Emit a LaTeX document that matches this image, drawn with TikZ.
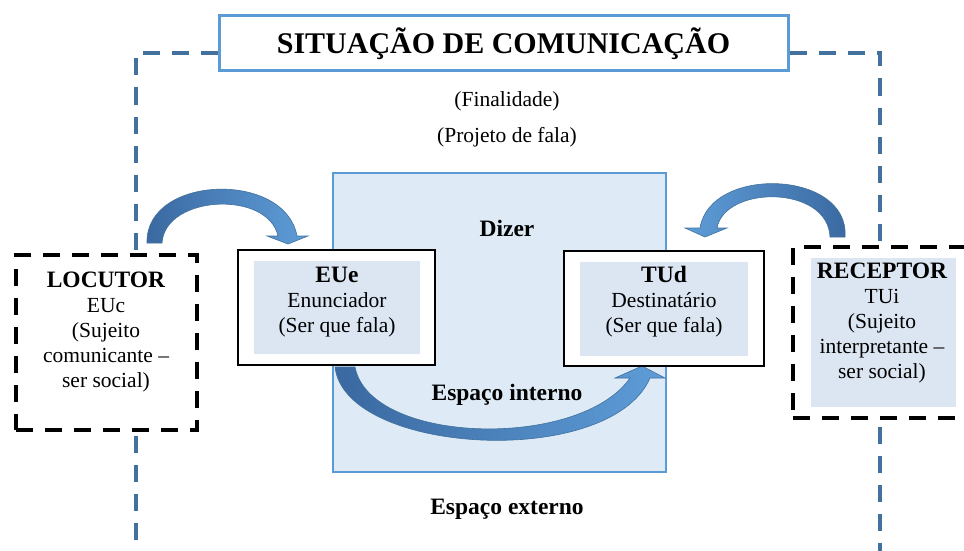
\documentclass[tikz,border=0pt]{standalone}
\usepackage{fontspec}
\setmainfont{Liberation Serif}
\definecolor{frameblue}{HTML}{41719C}
\definecolor{edgeblue}{HTML}{5B9BD5}
\definecolor{paleblue}{HTML}{DEEBF7}
\definecolor{innerblue}{HTML}{DCE6F2}
\definecolor{arrowdark}{HTML}{3A68A0}
\definecolor{arrowlight}{HTML}{5E9DD8}
\newcommand\bodysize{\fontsize{21.5}{25}\selectfont}
\newcommand\headsize{\fontsize{23.5}{25}\selectfont\bfseries}
\begin{document}
\begin{tikzpicture}[x=1pt,y=-1pt,>=latex,
    frame/.style={draw=frameblue,line width=4pt,dash pattern=on 17pt off 12pt},
    agentbox/.style={draw=black,fill=white,line width=4.5pt,dash pattern=on 17pt off 12pt,inner sep=0pt},
    speakerbox/.style={draw=black,fill=white,line width=1.4pt,minimum height=115pt,inner sep=0pt},
    innerbox/.style={fill=innerblue,inner sep=0pt},
    boxtext/.style={align=center,font=\bodysize,inner sep=0pt},
    plain/.style={font=\bodysize,inner sep=0pt},
    heading/.style={font=\headsize,inner sep=0pt},
    bigarrow/.style={draw=frameblue,line width=.6pt}]
\clip (0,0) rectangle (964,551);

\node[draw=edgeblue,line width=3pt,minimum width=569pt,minimum height=55pt,
      font=\fontsize{30}{36}\selectfont\bfseries] (title) at (503.5,43.5) {SITUAÇÃO DE COMUNICAÇÃO};
\foreach \s/\x in {west/136,east/880}
{
    \draw[frame] (title.\s) ++(0,9.5) -| (\x,560);
}

\node[plain] (fin) at (507,101) {(Finalidade)};
\node[plain] (proj) at (507,137) {(Projeto de fala)};

\node[draw=edgeblue,fill=paleblue,line width=2.5pt,minimum width=333pt,minimum height=299pt] (dizer) at (499.5,322.5) {};
\node[heading] (dizerTxt) at (507,228) {Dizer};
\node[heading] (interno) at (507,395) {Espaço interno};
\node[heading] (externo) at (507,509) {Espaço externo};

\shadedraw[bigarrow,left color=arrowdark,right color=arrowlight]
    (335,367) .. controls (345,455) and (610,470) .. (650,378) -- (665,378) -- (642,366) -- (615,378) -- (630,378)
    .. controls (580,450) and (370,445) .. (355,367) -- cycle;
\shadedraw[bigarrow,left color=arrowdark,right color=arrowlight]
    (147,243) .. controls (145,175) and (285,170) .. (297,236) -- (308,236) -- (288,244) -- (267,236) -- (278,236)
    .. controls (268,190) and (165,195) .. (162,243) -- cycle;
\shadedraw[bigarrow,left color=arrowlight,right color=arrowdark]
    (845,237) .. controls (850,170) and (710,165) .. (700,228) -- (685,228) -- (705,237) -- (727,228) -- (717,228)
    .. controls (725,185) and (828,185) .. (830,237) -- cycle;

\node[speakerbox,minimum width=197pt] (eue) at (336.5,307.5) {};
\node[innerbox,minimum width=166pt,minimum height=93pt] (eueIn) at (337,307.5) {};
\node[boxtext] (eueTxt) at (337,302) {{\headsize EUe}\\Enunciador\\(Ser que fala)};

\node[speakerbox,minimum width=200pt] (tud) at (664,308.5) {};
\node[innerbox,minimum width=168pt,minimum height=94pt] (tudIn) at (664,309) {};
\node[boxtext] (tudTxt) at (664,302) {{\headsize TUd}\\Destinatário\\(Ser que fala)};

\node[agentbox,minimum width=181pt,minimum height=175pt] (locutor) at (106.5,342.5) {};
\node[boxtext] (locTxt) at (106,332) {{\headsize LOCUTOR}\\EUc\\(Sujeito\\comunicante –\\ser social)};

\node[agentbox,minimum width=175pt,minimum height=171pt] (receptor) at (880.5,332.5) {};
\node[innerbox,minimum width=145pt,minimum height=149pt] (recIn) at (883.5,332.5) {};
\node[boxtext] (recTxt) at (882,323) {{\headsize RECEPTOR}\\TUi\\(Sujeito\\interpretante –\\ser social)};

\end{tikzpicture}
\end{document}
